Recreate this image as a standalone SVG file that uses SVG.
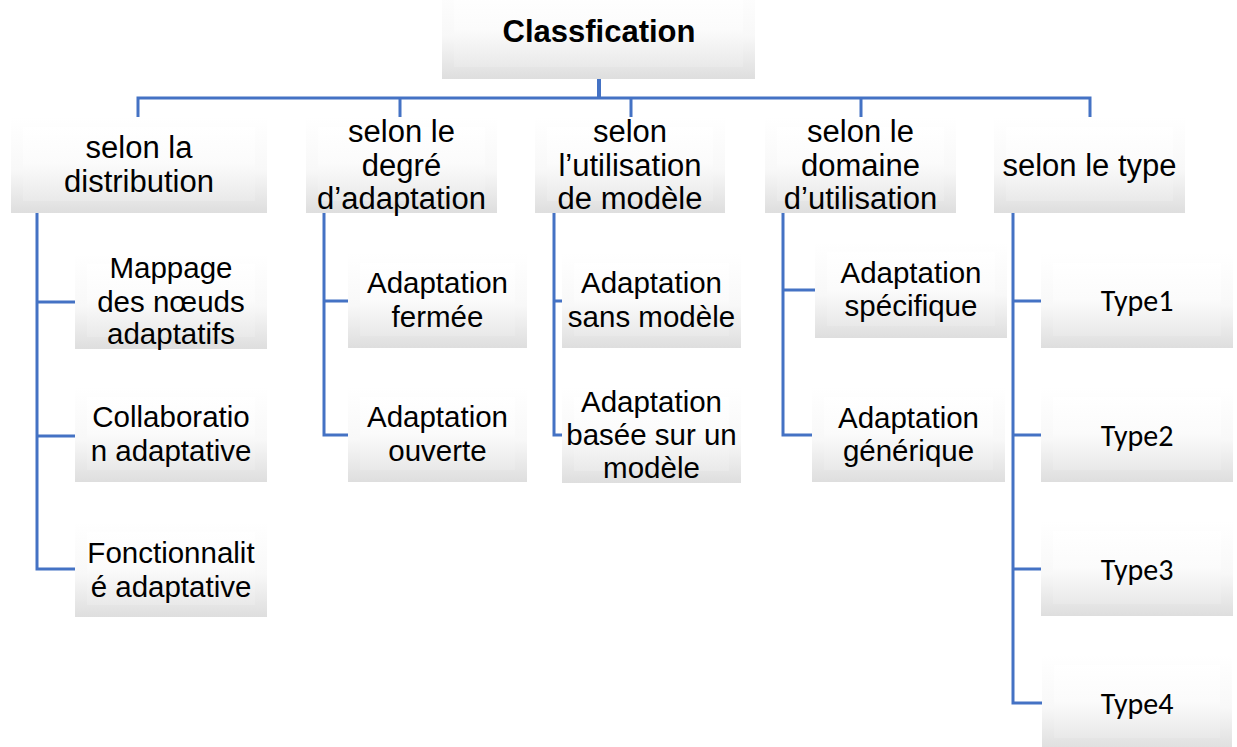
<svg xmlns="http://www.w3.org/2000/svg" width="1237" height="747" viewBox="0 0 1237 747">
  <defs>
    <!-- soft bevelled card: outer band + inner face -->
    <linearGradient id="gOuter" x1="0" y1="0" x2="0" y2="1">
      <stop offset="0" stop-color="#ffffff"/>
      <stop offset="0.55" stop-color="#f8f8f8"/>
      <stop offset="1" stop-color="#dedede"/>
    </linearGradient>
    <linearGradient id="gInner" x1="0" y1="0" x2="0" y2="1">
      <stop offset="0" stop-color="#ffffff"/>
      <stop offset="0.5" stop-color="#fbfbfb"/>
      <stop offset="1" stop-color="#e9e9e9"/>
    </linearGradient>
    <style>
      .box { fill: url(#gOuter); }
      .face { fill: url(#gInner); }
      .link { fill: none; stroke: #4472C4; stroke-width: 3; stroke-linejoin: miter; }
      .t { font-family: "Liberation Sans", Arial, sans-serif; fill: #000; text-anchor: middle; }
      .root { font-size: 31px; font-weight: bold; }
      .l1 { font-size: 31px; }
      .l2 { font-size: 29.5px; }
      .ty { font-family: Carlito, Lato, "Open Sans", sans-serif; font-size: 30px; fill: #000; text-anchor: middle; }
    </style>
  </defs>

  <rect width="1237" height="747" fill="#ffffff"/>

  <!-- connectors -->
  <g id="connectors">
    <path class="link" d="M599,79 V98" style="stroke-width:4"/>
    <path class="link" d="M138,117 V98 H1090 V117"/>
    <path class="link" d="M400,98 V117 M631,98 V117 M861,98 V117"/>
    <!-- column 1 -->
    <path class="link" d="M37,213 V569 H75 M37,302 H75 M37,436 H75"/>
    <!-- column 2 -->
    <path class="link" d="M324,213 V435 H348 M324,301 H348"/>
    <!-- column 3 -->
    <path class="link" d="M554,213 V435 H562 M554,301 H562"/>
    <!-- column 4 -->
    <path class="link" d="M783,213 V435 H812 M783,290 H815"/>
    <!-- column 5 -->
    <path class="link" d="M1013,213 V703 H1042 M1013,301 H1041 M1013,435 H1041 M1013,569 H1041"/>
  </g>

  <!-- root -->
  <g id="n-root">
    <rect class="box" x="442" y="-17" width="313" height="96"/>
    <rect class="face" x="454" y="-7" width="289" height="74"/>
    <text class="t root" x="599" y="42">Classfication</text>
  </g>

  <!-- level 1 -->
  <g id="n-distribution">
    <rect class="box" x="11" y="117" width="256" height="96"/>
    <rect class="face" x="23" y="127" width="232" height="74"/>
    <text class="t l1" x="139" y="158">selon la</text>
    <text class="t l1" x="139" y="192">distribution</text>
  </g>
  <g id="n-degre">
    <rect class="box" x="306" y="117" width="191" height="96"/>
    <rect class="face" x="318" y="127" width="167" height="74"/>
    <text class="t l1" x="401.5" y="142">selon le</text>
    <text class="t l1" x="401.5" y="176">degré</text>
    <text class="t l1" x="401.5" y="209">d’adaptation</text>
  </g>
  <g id="n-modele">
    <rect class="box" x="535" y="117" width="190" height="96"/>
    <rect class="face" x="547" y="127" width="166" height="74"/>
    <text class="t l1" x="630" y="142">selon</text>
    <text class="t l1" x="630" y="176">l’utilisation</text>
    <text class="t l1" x="630" y="209">de modèle</text>
  </g>
  <g id="n-domaine">
    <rect class="box" x="765" y="117" width="191" height="96"/>
    <rect class="face" x="777" y="127" width="167" height="74"/>
    <text class="t l1" x="860.5" y="142">selon le</text>
    <text class="t l1" x="860.5" y="176">domaine</text>
    <text class="t l1" x="860.5" y="209">d’utilisation</text>
  </g>
  <g id="n-type">
    <rect class="box" x="994" y="117" width="191" height="96"/>
    <rect class="face" x="1006" y="127" width="167" height="74"/>
    <text class="t l1" x="1089.5" y="176">selon le type</text>
  </g>

  <!-- column 1 children -->
  <g id="n-mappage">
    <rect class="box" x="75" y="254" width="192" height="95"/>
    <rect class="face" x="87" y="264" width="168" height="73"/>
    <text class="t l2" x="171" y="278">Mappage</text>
    <text class="t l2" x="171" y="312">des nœuds</text>
    <text class="t l2" x="171" y="344">adaptatifs</text>
  </g>
  <g id="n-collaboration">
    <rect class="box" x="75" y="387" width="192" height="95"/>
    <rect class="face" x="87" y="397" width="168" height="73"/>
    <text class="t l2" x="171" y="427">Collaboratio</text>
    <text class="t l2" x="171" y="461">n adaptative</text>
  </g>
  <g id="n-fonctionnalite">
    <rect class="box" x="75" y="522" width="192" height="95"/>
    <rect class="face" x="87" y="532" width="168" height="73"/>
    <text class="t l2" x="171" y="563">Fonctionnalit</text>
    <text class="t l2" x="171" y="597">é adaptative</text>
  </g>

  <!-- column 2 children -->
  <g id="n-fermee">
    <rect class="box" x="348" y="253" width="179" height="95"/>
    <rect class="face" x="360" y="263" width="155" height="73"/>
    <text class="t l2" x="437.5" y="293">Adaptation</text>
    <text class="t l2" x="437.5" y="327">fermée</text>
  </g>
  <g id="n-ouverte">
    <rect class="box" x="348" y="387" width="179" height="95"/>
    <rect class="face" x="360" y="397" width="155" height="73"/>
    <text class="t l2" x="437.5" y="427">Adaptation</text>
    <text class="t l2" x="437.5" y="461">ouverte</text>
  </g>

  <!-- column 3 children -->
  <g id="n-sans-modele">
    <rect class="box" x="562" y="253" width="179" height="95"/>
    <rect class="face" x="574" y="263" width="155" height="73"/>
    <text class="t l2" x="651.5" y="293">Adaptation</text>
    <text class="t l2" x="651.5" y="327">sans modèle</text>
  </g>
  <g id="n-basee-modele">
    <rect class="box" x="562" y="387" width="179" height="96"/>
    <rect class="face" x="574" y="397" width="155" height="74"/>
    <text class="t l2" x="651.5" y="412">Adaptation</text>
    <text class="t l2" x="651.5" y="445">basée sur un</text>
    <text class="t l2" x="651.5" y="478">modèle</text>
  </g>

  <!-- column 4 children -->
  <g id="n-specifique">
    <rect class="box" x="815" y="242" width="192" height="96"/>
    <rect class="face" x="827" y="252" width="168" height="74"/>
    <text class="t l2" x="911" y="283">Adaptation</text>
    <text class="t l2" x="911" y="316">spécifique</text>
  </g>
  <g id="n-generique">
    <rect class="box" x="812" y="387" width="193" height="95"/>
    <rect class="face" x="824" y="397" width="169" height="73"/>
    <text class="t l2" x="908.5" y="428">Adaptation</text>
    <text class="t l2" x="908.5" y="461">générique</text>
  </g>

  <!-- column 5 children -->
  <g id="n-type1">
    <rect class="box" x="1041" y="253" width="192" height="95"/>
    <rect class="face" x="1053" y="263" width="168" height="73"/>
    <text class="ty" x="1137" y="311">Type1</text>
  </g>
  <g id="n-type2">
    <rect class="box" x="1041" y="387" width="192" height="95"/>
    <rect class="face" x="1053" y="397" width="168" height="73"/>
    <text class="ty" x="1137" y="446">Type2</text>
  </g>
  <g id="n-type3">
    <rect class="box" x="1041" y="521" width="192" height="95"/>
    <rect class="face" x="1053" y="531" width="168" height="73"/>
    <text class="ty" x="1137" y="580">Type3</text>
  </g>
  <g id="n-type4">
    <rect class="box" x="1042" y="655" width="190" height="95"/>
    <rect class="face" x="1054" y="665" width="166" height="73"/>
    <text class="ty" x="1137" y="714">Type4</text>
  </g>
</svg>
